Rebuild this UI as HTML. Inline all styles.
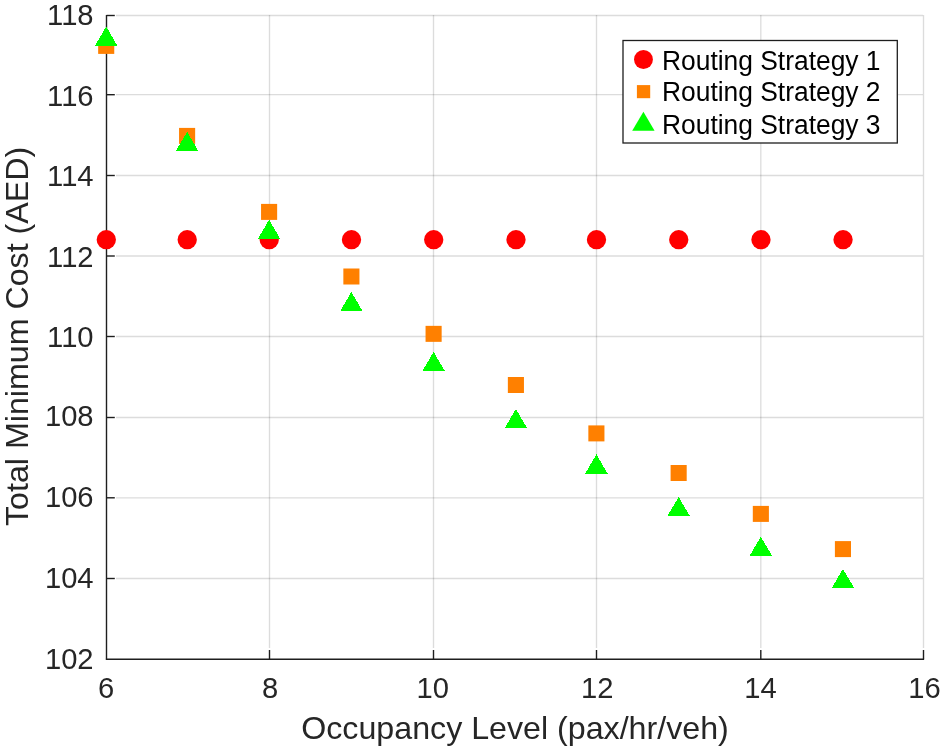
<!DOCTYPE html>
<html><head><meta charset="utf-8"><style>
html,body{margin:0;padding:0;background:#fff;}
svg{display:block;will-change:transform;}
text{font-family:"Liberation Sans",sans-serif;}
</style></head><body>
<svg width="945" height="751" viewBox="0 0 945 751">
<rect width="945" height="751" fill="#fff"/>
<line x1="269.5" y1="15.0" x2="269.5" y2="648" stroke="rgba(38,38,38,0.16)" stroke-width="1.3"/>
<line x1="433.5" y1="15.0" x2="433.5" y2="648" stroke="rgba(38,38,38,0.16)" stroke-width="1.3"/>
<line x1="596.5" y1="15.0" x2="596.5" y2="648" stroke="rgba(38,38,38,0.16)" stroke-width="1.3"/>
<line x1="760.8" y1="15.0" x2="760.8" y2="648" stroke="rgba(38,38,38,0.16)" stroke-width="1.3"/>
<line x1="923.5" y1="15.0" x2="923.5" y2="648" stroke="rgba(38,38,38,0.16)" stroke-width="1.3"/>
<line x1="116" y1="578.5" x2="922.9" y2="578.5" stroke="rgba(38,38,38,0.16)" stroke-width="1.3"/>
<line x1="116" y1="497.8" x2="922.9" y2="497.8" stroke="rgba(38,38,38,0.16)" stroke-width="1.3"/>
<line x1="116" y1="417.5" x2="922.9" y2="417.5" stroke="rgba(38,38,38,0.16)" stroke-width="1.3"/>
<line x1="116" y1="336.5" x2="922.9" y2="336.5" stroke="rgba(38,38,38,0.16)" stroke-width="1.3"/>
<line x1="116" y1="256.0" x2="922.9" y2="256.0" stroke="rgba(38,38,38,0.16)" stroke-width="1.3"/>
<line x1="116" y1="175.5" x2="922.9" y2="175.5" stroke="rgba(38,38,38,0.16)" stroke-width="1.3"/>
<line x1="116" y1="94.7" x2="922.9" y2="94.7" stroke="rgba(38,38,38,0.16)" stroke-width="1.3"/>
<line x1="116" y1="15.5" x2="922.9" y2="15.5" stroke="rgba(38,38,38,0.16)" stroke-width="1.3"/>
<line x1="106.5" y1="14.9" x2="106.5" y2="659.8000000000001" stroke="#1e1e1e" stroke-width="1.4"/>
<line x1="105.9" y1="659.2" x2="924.1" y2="659.2" stroke="#1e1e1e" stroke-width="1.4"/>
<line x1="269.5" y1="659.2" x2="269.5" y2="650.0" stroke="#1e1e1e" stroke-width="1.4"/>
<line x1="433.5" y1="659.2" x2="433.5" y2="650.0" stroke="#1e1e1e" stroke-width="1.4"/>
<line x1="596.5" y1="659.2" x2="596.5" y2="650.0" stroke="#1e1e1e" stroke-width="1.4"/>
<line x1="760.8" y1="659.2" x2="760.8" y2="650.0" stroke="#1e1e1e" stroke-width="1.4"/>
<line x1="923.5" y1="659.2" x2="923.5" y2="650.0" stroke="#1e1e1e" stroke-width="1.4"/>
<line x1="106.5" y1="578.5" x2="114.8" y2="578.5" stroke="#1e1e1e" stroke-width="1.4"/>
<line x1="106.5" y1="497.8" x2="114.8" y2="497.8" stroke="#1e1e1e" stroke-width="1.4"/>
<line x1="106.5" y1="417.5" x2="114.8" y2="417.5" stroke="#1e1e1e" stroke-width="1.4"/>
<line x1="106.5" y1="336.5" x2="114.8" y2="336.5" stroke="#1e1e1e" stroke-width="1.4"/>
<line x1="106.5" y1="256.0" x2="114.8" y2="256.0" stroke="#1e1e1e" stroke-width="1.4"/>
<line x1="106.5" y1="175.5" x2="114.8" y2="175.5" stroke="#1e1e1e" stroke-width="1.4"/>
<line x1="106.5" y1="94.7" x2="114.8" y2="94.7" stroke="#1e1e1e" stroke-width="1.4"/>
<line x1="106.5" y1="15.5" x2="114.8" y2="15.5" stroke="#1e1e1e" stroke-width="1.4"/>
<text transform="translate(93.6,668.55) scale(1,1.025)" text-anchor="end" font-size="29.2" fill="#262626">102</text>
<text transform="translate(93.6,587.85) scale(1,1.025)" text-anchor="end" font-size="29.2" fill="#262626">104</text>
<text transform="translate(93.6,507.25) scale(1,1.025)" text-anchor="end" font-size="29.2" fill="#262626">106</text>
<text transform="translate(93.6,426.45) scale(1,1.025)" text-anchor="end" font-size="29.2" fill="#262626">108</text>
<text transform="translate(93.6,347.40) scale(1,1.025)" text-anchor="end" font-size="29.2" fill="#262626">110</text>
<text transform="translate(93.6,266.60) scale(1,1.025)" text-anchor="end" font-size="29.2" fill="#262626">112</text>
<text transform="translate(93.6,186.10) scale(1,1.025)" text-anchor="end" font-size="29.2" fill="#262626">114</text>
<text transform="translate(93.6,105.65) scale(1,1.025)" text-anchor="end" font-size="29.2" fill="#262626">116</text>
<text transform="translate(93.6,24.70) scale(1,1.025)" text-anchor="end" font-size="29.2" fill="#262626">118</text>
<text transform="translate(106.00,698.3) scale(1,1.025)" text-anchor="middle" font-size="29.2" fill="#262626">6</text>
<text transform="translate(270.10,698.3) scale(1,1.025)" text-anchor="middle" font-size="29.2" fill="#262626">8</text>
<text transform="translate(432.80,698.3) scale(1,1.025)" text-anchor="middle" font-size="29.2" fill="#262626">10</text>
<text transform="translate(597.30,698.3) scale(1,1.025)" text-anchor="middle" font-size="29.2" fill="#262626">12</text>
<text transform="translate(760.40,698.3) scale(1,1.025)" text-anchor="middle" font-size="29.2" fill="#262626">14</text>
<text transform="translate(924.50,698.3) scale(1,1.025)" text-anchor="middle" font-size="29.2" fill="#262626">16</text>
<text x="515" y="738.6" text-anchor="middle" font-size="32.2" fill="#262626">Occupancy Level (pax/hr/veh)</text>
<text transform="translate(28,336.4) rotate(-90)" x="0" y="0" text-anchor="middle" font-size="32.2" fill="#262626">Total Minimum Cost (AED)</text>
<circle cx="106.30" cy="239.70" r="9.65" fill="#ff0000"/>
<circle cx="187.20" cy="239.70" r="9.65" fill="#ff0000"/>
<circle cx="269.20" cy="239.70" r="9.65" fill="#ff0000"/>
<circle cx="351.50" cy="239.70" r="9.65" fill="#ff0000"/>
<circle cx="433.70" cy="239.70" r="9.65" fill="#ff0000"/>
<circle cx="516.00" cy="239.70" r="9.65" fill="#ff0000"/>
<circle cx="596.50" cy="239.70" r="9.65" fill="#ff0000"/>
<circle cx="678.75" cy="239.70" r="9.65" fill="#ff0000"/>
<circle cx="760.95" cy="239.70" r="9.65" fill="#ff0000"/>
<circle cx="843.05" cy="239.70" r="9.65" fill="#ff0000"/>
<rect x="98.15" y="44.00" width="16.1" height="9.90" fill="#ff8000"/>
<rect x="179.05" y="127.90" width="16.1" height="16.00" fill="#ff8000"/>
<rect x="261.05" y="203.90" width="16.1" height="16.00" fill="#ff8000"/>
<rect x="343.35" y="268.50" width="16.1" height="16.00" fill="#ff8000"/>
<rect x="425.55" y="325.85" width="16.1" height="16.00" fill="#ff8000"/>
<rect x="507.85" y="377.00" width="16.1" height="16.00" fill="#ff8000"/>
<rect x="588.35" y="425.40" width="16.1" height="16.00" fill="#ff8000"/>
<rect x="670.60" y="465.00" width="16.1" height="16.00" fill="#ff8000"/>
<rect x="752.80" y="505.90" width="16.1" height="16.00" fill="#ff8000"/>
<rect x="834.90" y="541.10" width="16.1" height="16.00" fill="#ff8000"/>
<polygon points="106.20,26.4 95.05,45.8 117.35,45.8" fill="#00ff00" shape-rendering="crispEdges"/>
<polygon points="187.10,131.8 175.95,150.9 198.25,150.9" fill="#00ff00" shape-rendering="crispEdges"/>
<polygon points="269.10,219.8 257.95,238.8 280.25,238.8" fill="#00ff00" shape-rendering="crispEdges"/>
<polygon points="351.40,291.9 340.25,311.0 362.55,311.0" fill="#00ff00" shape-rendering="crispEdges"/>
<polygon points="433.60,351.9 422.45,370.9 444.75,370.9" fill="#00ff00" shape-rendering="crispEdges"/>
<polygon points="515.90,409.0 504.75,427.9 527.05,427.9" fill="#00ff00" shape-rendering="crispEdges"/>
<polygon points="596.40,454.3 585.25,473.5 607.55,473.5" fill="#00ff00" shape-rendering="crispEdges"/>
<polygon points="678.65,497.0 667.50,515.9 689.80,515.9" fill="#00ff00" shape-rendering="crispEdges"/>
<polygon points="760.85,536.7 749.70,555.7 772.00,555.7" fill="#00ff00" shape-rendering="crispEdges"/>
<polygon points="842.95,568.9 831.80,587.9 854.10,587.9" fill="#00ff00" shape-rendering="crispEdges"/>
<rect x="623" y="40.5" width="274.3" height="102.5" fill="#fff" stroke="#1e1e1e" stroke-width="1.3"/>
<circle cx="643.45" cy="59.5" r="9.45" fill="#ff0000"/>
<rect x="636.9" y="85.1" width="13.3" height="13.1" fill="#ff8000"/>
<polygon points="643.4,111.7 632.2,130.8 654.6,130.8" fill="#00ff00"/>
<text transform="translate(662,70.2) scale(1,1.05)" font-size="26.4" fill="#000">Routing Strategy 1</text>
<text transform="translate(662,101.3) scale(1,1.05)" font-size="26.4" fill="#000">Routing Strategy 2</text>
<text transform="translate(662,133.7) scale(1,1.05)" font-size="26.4" fill="#000">Routing Strategy 3</text>
</svg>
</body></html>
